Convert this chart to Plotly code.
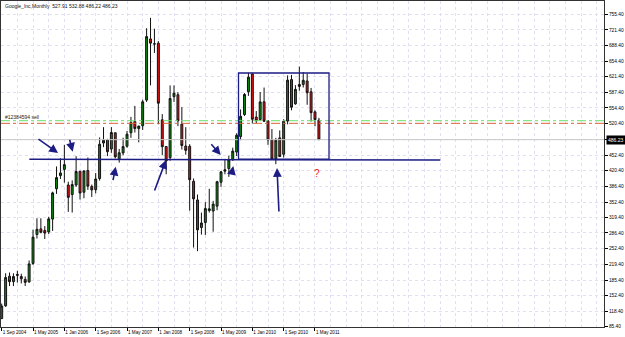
import plotly.graph_objects as go

# ---- data: Google monthly bars, Sep 2004 .. Jun 2011 (bar index 0..81) ----
MONTHS = ["2004-09","2004-10","2004-11","2004-12",
          "2005-01","2005-02","2005-03","2005-04","2005-05","2005-06","2005-07","2005-08","2005-09","2005-10","2005-11","2005-12",
          "2006-01","2006-02","2006-03","2006-04","2006-05","2006-06","2006-07","2006-08","2006-09","2006-10","2006-11","2006-12",
          "2007-01","2007-02","2007-03","2007-04","2007-05","2007-06","2007-07","2007-08","2007-09","2007-10","2007-11","2007-12",
          "2008-01","2008-02","2008-03","2008-04","2008-05","2008-06","2008-07","2008-08","2008-09","2008-10","2008-11","2008-12",
          "2009-01","2009-02","2009-03","2009-04","2009-05","2009-06","2009-07","2009-08","2009-09","2009-10","2009-11","2009-12",
          "2010-01","2010-02","2010-03","2010-04","2010-05","2010-06","2010-07","2010-08","2010-09","2010-10","2010-11","2010-12",
          "2011-01","2011-02","2011-03","2011-04","2011-05","2011-06"]
OPEN = [102.76,130.11,193.55,181.98,
        197.40,193.00,186.80,181.35,221.00,283.00,295.00,291.60,288.50,316.00,381.00,409.20,
        422.52,389.03,368.56,389.00,418.47,373.54,420.00,386.00,379.00,403.00,479.00,485.54,
        466.00,501.00,445.11,457.76,472.19,501.00,525.00,510.00,516.00,571.00,702.00,691.00,
        692.87,528.67,471.51,447.74,578.31,582.50,519.58,472.51,472.00,397.00,357.00,298.00,
        308.60,334.29,333.33,343.78,395.03,418.73,424.20,443.00,459.68,493.00,540.00,589.00,
        626.95,534.60,529.20,567.35,526.50,486.00,445.29,490.00,454.98,526.00,615.00,563.00,
        604.46,604.49,612.00,588.76,545.70,527.91]
HIGH = [135.02,199.95,201.60,199.88,
        205.30,198.96,193.00,227.28,293.22,317.80,317.80,301.00,320.95,374.70,428.80,446.21,
        475.11,396.10,399.00,450.72,418.47,419.33,448.00,390.00,414.60,491.00,513.00,488.00,
        513.00,501.00,466.31,490.25,505.00,534.99,558.58,516.00,571.79,725.00,747.24,724.00,
        697.37,541.04,472.00,602.45,602.45,588.04,555.90,512.99,476.45,403.00,368.68,330.00,
        352.33,381.00,355.00,398.00,419.00,445.00,452.00,469.00,500.00,551.00,586.00,629.51,
        629.51,547.50,588.28,597.84,527.00,509.00,490.00,506.00,530.00,624.00,625.00,603.00,
        642.96,630.85,628.00,597.00,549.00,532.88]
LOW = [102.38,128.00,172.55,172.50,
       180.00,178.20,172.57,179.84,218.00,274.35,285.50,273.35,283.79,290.60,370.00,402.00,
       394.10,331.55,330.00,385.00,358.00,360.57,378.60,363.36,371.28,398.50,470.15,451.00,
       458.00,446.00,437.00,453.00,469.00,490.00,501.50,480.46,507.00,567.00,602.50,672.00,
       519.00,453.00,412.11,441.00,567.00,515.09,465.00,454.00,334.00,255.00,247.30,282.75,
       282.00,330.00,289.00,335.00,385.00,412.00,406.50,441.00,451.00,485.00,537.00,580.00,
       521.00,521.00,527.00,524.00,475.00,443.00,433.63,450.00,448.00,519.00,549.00,561.00,
       591.00,598.00,561.00,525.00,515.00,486.22]
CLOSE = [129.60,190.64,181.98,192.79,
         195.62,187.99,180.51,220.00,277.27,294.15,287.76,286.00,316.46,372.14,404.91,414.86,
         432.66,362.62,390.00,417.94,371.82,419.33,386.60,378.53,401.90,476.39,484.81,460.48,
         501.50,449.45,458.16,471.38,497.91,522.70,510.00,515.25,567.27,707.00,693.00,691.48,
         564.30,471.18,440.47,574.29,585.80,526.42,473.75,463.29,400.52,359.36,292.96,307.65,
         338.53,337.99,348.06,395.97,417.23,421.59,443.05,461.67,495.85,536.12,583.00,619.98,
         529.94,526.80,567.12,525.70,485.63,444.95,484.85,450.02,525.79,613.70,555.71,593.97,
         600.36,613.40,586.76,544.10,529.02,486.23]

X_TICK_LABELS = ["1 Sep 2004","1 May 2005","1 Jan 2006","1 Sep 2006","1 May 2007","1 Jan 2008",
                 "1 Sep 2008","1 May 2009","1 Jan 2010","1 Sep 2010","1 May 2011"]
Y_TICKS = [755.40,721.40,688.40,654.40,621.40,587.40,554.40,520.40,486.40,452.40,420.40,
           386.40,352.40,319.40,286.40,252.40,219.40,185.40,152.40,118.40,85.40]

BID = 486.23
ORDER_PRICE = 526.8
STOP_PRICE = 521.2
ORDER_LABEL = "#12384594 sell"
HEADER = "Google_Inc,Monthly  527.91 532.88 486.22 486.23"

# drawn objects (bar index / price)
TREND_X = [7.05, 112.0]
TREND_Y = [444.1, 442.6]
BOX_X = [60.47, 83.58]
BOX_Y = [444.7, 629.0]
# arrows: tip x, tip y, tail x, tail y
ARROWS = [(14.38, 457.6, 9.01, 489.7),
          (18.13, 460.4, 17.26, 489.1),
          (29.11, 428.2, 28.35, 396.1),
          (41.96, 442.6, 38.89, 374.0),
          (55.93, 453.3, 53.19, 479.6),
          (59.14, 429.7, 58.73, 414.1),
          (70.30, 425.4, 70.81, 329.0)]
QMARK = (80.4, 414.1)

FONT = "Liberation Sans"
GRID = "#e0e0f2"
NAVY = "#1c1c84"

idx = list(range(len(MONTHS)))
x_ticks = idx[::8][:len(X_TICK_LABELS)]
x_minor = list(range(0, 154, 4))

fig = go.Figure()
fig.add_trace(go.Candlestick(
    x=idx, open=OPEN, high=HIGH, low=LOW, close=CLOSE,
    increasing=dict(fillcolor="#0b8a0b", line=dict(color="#111111", width=1)),
    decreasing=dict(fillcolor="#ee1111", line=dict(color="#111111", width=1)),
    whiskerwidth=0, showlegend=False, hoverinfo="skip"))

# bid line and order lines
fig.add_hline(y=BID, line=dict(color="#c8c8c8", width=1))
fig.add_hline(y=ORDER_PRICE, line=dict(color="#6ade6a", width=1, dash="dashdot"))
fig.add_hline(y=STOP_PRICE, line=dict(color="#e2643c", width=1, dash="dashdot"))

# trend line & rectangle
fig.add_shape(type="line", x0=TREND_X[0], x1=TREND_X[1], y0=TREND_Y[0], y1=TREND_Y[1],
              line=dict(color=NAVY, width=1.6))
fig.add_shape(type="rect", x0=BOX_X[0], x1=BOX_X[1], y0=BOX_Y[0], y1=BOX_Y[1],
              line=dict(color=NAVY, width=1.3))

for tx, ty, ax, ay in ARROWS:
    fig.add_annotation(x=tx, y=ty, ax=ax, ay=ay, xref="x", yref="y", axref="x", ayref="y",
                       showarrow=True, arrowhead=2, arrowsize=1.1, arrowwidth=1.6,
                       arrowcolor=NAVY, text="")

fig.add_annotation(x=QMARK[0], y=QMARK[1], xref="x", yref="y", text="?", showarrow=False,
                   font=dict(family=FONT, size=10, color="#ee2222"))
fig.add_annotation(x=0.003, y=ORDER_PRICE + 7, xref="paper", yref="y", text=ORDER_LABEL,
                   showarrow=False, xanchor="left", yanchor="middle",
                   font=dict(family=FONT, size=5, color="#222222"))
fig.add_annotation(x=0.003, y=0.985, xref="paper", yref="paper", text=HEADER,
                   showarrow=False, xanchor="left", yanchor="middle",
                   font=dict(family=FONT, size=5, color="#111111"))
fig.add_annotation(x=1, y=BID, xref="paper", yref="y", text=f"{BID:.2f}", showarrow=False,
                   xanchor="left", yanchor="middle", xshift=2, bgcolor="#000000", borderpad=1,
                   font=dict(family=FONT, size=5, color="#ffffff"))

fig.update_layout(
    width=625, height=337, margin=dict(l=1, r=21, t=1, b=10),
    paper_bgcolor="#ffffff", plot_bgcolor="#ffffff",
    font=dict(family=FONT, size=5, color="#000000"),
    xaxis=dict(range=[-0.18, 153.8], tickmode="array", tickvals=x_ticks, ticktext=X_TICK_LABELS,
               ticks="outside", ticklen=3, tickcolor="#000000", ticklabelposition="outside right",
               tickangle=0, automargin=False,
               tickfont=dict(size=4.6), showline=True, linecolor="#333333", mirror=True,
               showgrid=True, gridcolor=GRID, griddash="dot", gridwidth=1, zeroline=False,
               rangeslider=dict(visible=False), fixedrange=True,
               minor=dict(tickmode="array", tickvals=x_minor, showgrid=True, gridcolor=GRID,
                          griddash="dot", ticks="")),
    yaxis=dict(range=[84.8, 783.3], side="right", tickmode="array", tickvals=Y_TICKS,
               ticktext=[f"{v:.2f}" for v in Y_TICKS], ticks="outside", ticklen=3,
               tickcolor="#000000", tickfont=dict(size=4.8), showline=True, linecolor="#333333",
               mirror=True, showgrid=True, gridcolor=GRID, griddash="dot", zeroline=False,
               automargin=False, fixedrange=True),
)

fig.write_html("out.html")
